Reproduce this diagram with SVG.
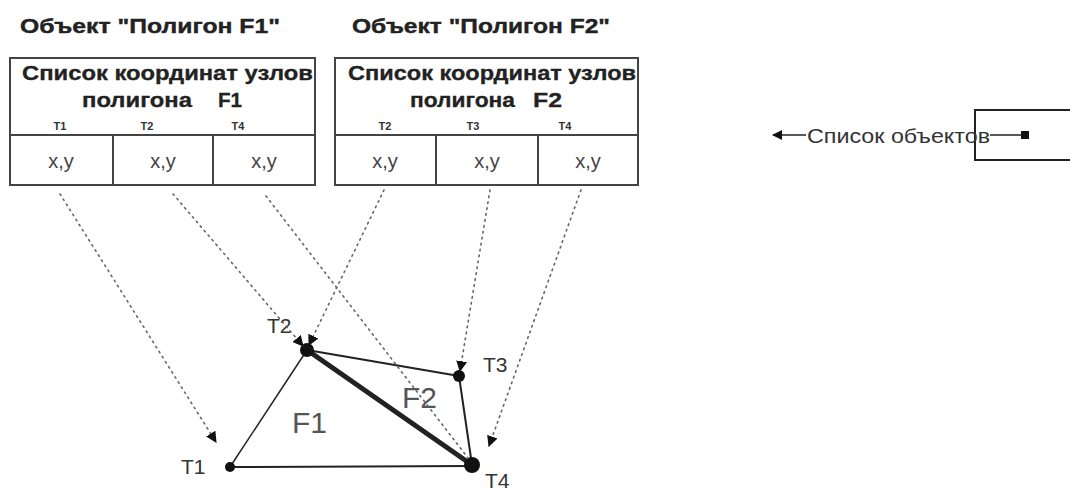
<svg xmlns="http://www.w3.org/2000/svg" width="1070" height="490" viewBox="0 0 1070 490">
<style>
.title{font-family:"Liberation Sans",Arial,sans-serif;font-weight:bold;font-size:21px;fill:#222;stroke:#222;stroke-width:0.4}
.hdr{font-family:"Liberation Sans",Arial,sans-serif;font-weight:bold;font-size:20px;fill:#222;stroke:#222;stroke-width:0.3}
.sm{font-family:"Liberation Sans",Arial,sans-serif;font-weight:bold;font-size:11px;fill:#333}
.xy{font-family:"Liberation Sans",Arial,sans-serif;font-size:20px;fill:#444}
.lbl{font-family:"Liberation Sans",Arial,sans-serif;font-size:21px;fill:#333}
.big{font-family:"Liberation Sans",Arial,sans-serif;font-size:30px;fill:#555}
.box{fill:none;stroke:#444;stroke-width:2}
.dot{fill:none;stroke:#666;stroke-width:1.6;stroke-dasharray:1.6 4.4;stroke-linecap:round}
.edge{stroke:#222;fill:none}
</style>
<defs>
<marker id="ah" viewBox="0 0 10 10" refX="9" refY="5" markerWidth="11" markerHeight="11" markerUnits="userSpaceOnUse" orient="auto">
<path d="M0,0 L10,5 L0,10 Z" fill="#111"/>
</marker>
<marker id="ahl" viewBox="0 0 10 10" refX="9" refY="5" markerWidth="10" markerHeight="10" markerUnits="userSpaceOnUse" orient="auto">
<path d="M0,0 L10,5 L0,10 Z" fill="#111"/>
</marker>
</defs>
<rect width="1070" height="490" fill="#fff"/>

<g id="object-f1">
<text class="title" x="20" y="33" textLength="260" lengthAdjust="spacingAndGlyphs">Объект "Полигон F1"</text>
<rect class="box" x="10" y="58" width="305" height="127"/>
<line class="box" x1="10" y1="135" x2="315" y2="135"/>
<line class="box" x1="113" y1="135" x2="113" y2="185"/>
<line class="box" x1="213" y1="135" x2="213" y2="185"/>
<text class="hdr" x="22" y="80" textLength="291" lengthAdjust="spacingAndGlyphs">Список координат узлов</text>
<text class="hdr" x="82" y="107" textLength="110" lengthAdjust="spacingAndGlyphs">полигона</text>
<text class="hdr" x="218" y="107" textLength="24" lengthAdjust="spacingAndGlyphs">F1</text>
<text class="sm" x="60" y="130" text-anchor="middle">T1</text>
<text class="sm" x="147" y="130" text-anchor="middle">T2</text>
<text class="sm" x="238" y="130" text-anchor="middle">T4</text>
<text class="xy" x="61" y="168" text-anchor="middle">x,y</text>
<text class="xy" x="163" y="168" text-anchor="middle">x,y</text>
<text class="xy" x="264" y="168" text-anchor="middle">x,y</text>
</g>

<g id="object-f2">
<text class="title" x="352" y="33" textLength="258" lengthAdjust="spacingAndGlyphs">Объект "Полигон F2"</text>
<rect class="box" x="335" y="58" width="303" height="127"/>
<line class="box" x1="335" y1="135" x2="638" y2="135"/>
<line class="box" x1="436" y1="135" x2="436" y2="185"/>
<line class="box" x1="538" y1="135" x2="538" y2="185"/>
<text class="hdr" x="348" y="80" textLength="288" lengthAdjust="spacingAndGlyphs">Список координат узлов</text>
<text class="hdr" x="410" y="107" textLength="105" lengthAdjust="spacingAndGlyphs">полигона</text>
<text class="hdr" x="533" y="107" textLength="29" lengthAdjust="spacingAndGlyphs">F2</text>
<text class="sm" x="385" y="130" text-anchor="middle">T2</text>
<text class="sm" x="473" y="130" text-anchor="middle">T3</text>
<text class="sm" x="565" y="130" text-anchor="middle">T4</text>
<text class="xy" x="385" y="168" text-anchor="middle">x,y</text>
<text class="xy" x="487" y="168" text-anchor="middle">x,y</text>
<text class="xy" x="588" y="168" text-anchor="middle">x,y</text>
</g>

<g id="object-list">
<path class="edge" stroke-width="2" d="M1070,110 H975 V160 H1070"/>
<line class="edge" stroke-width="1.5" x1="806" y1="135" x2="773" y2="135" marker-end="url(#ahl)"/>
<text class="lbl" x="807" y="143" textLength="183" lengthAdjust="spacingAndGlyphs">Список объектов</text>
<line class="edge" stroke-width="1.5" x1="990" y1="135" x2="1022" y2="135"/>
<rect x="1021" y="131" width="8" height="8" fill="#111"/>
</g>

<g id="polygons">
<line class="edge" stroke-width="1.5" x1="230" y1="467" x2="307" y2="350"/>
<line class="edge" stroke-width="2" x1="230" y1="467" x2="472" y2="466"/>
<line class="edge" stroke-width="2" x1="307" y1="350" x2="459" y2="376"/>
<line class="edge" stroke-width="2" x1="459" y1="376" x2="472" y2="465"/>
<line class="edge" stroke-width="5" x1="307" y1="350" x2="472" y2="465"/>
<text class="big" x="292" y="433">F1</text>
<text class="big" x="402" y="408">F2</text>
</g>

<g id="node-t1"><circle cx="230" cy="467" r="5" fill="#111"/><text class="lbl" x="181" y="474">T1</text></g>
<g id="node-t2"><circle cx="307" cy="350" r="7" fill="#111"/><text class="lbl" x="267" y="333">T2</text></g>
<g id="node-t3"><circle cx="459" cy="376" r="6" fill="#111"/><text class="lbl" x="483" y="372">T3</text></g>
<g id="node-t4"><circle cx="472" cy="465" r="8" fill="#111"/><text class="lbl" x="485" y="488">T4</text></g>

<g id="connectors">
<line class="dot" x1="60" y1="194" x2="216" y2="442" marker-end="url(#ah)"/>
<line class="dot" x1="173" y1="194" x2="303" y2="346" marker-end="url(#ah)"/>
<line class="dot" x1="266" y1="196" x2="468" y2="458"/>
<line class="dot" x1="384" y1="190" x2="309" y2="345" marker-end="url(#ah)"/>
<line class="dot" x1="490" y1="190" x2="460" y2="371" marker-end="url(#ah)"/>
<line class="dot" x1="581" y1="190" x2="489" y2="446" marker-end="url(#ah)"/>
</g>
</svg>
